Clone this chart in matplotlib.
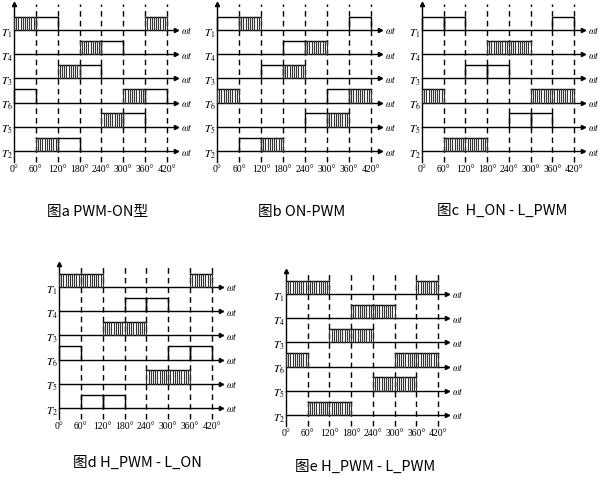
import matplotlib.pyplot as plt

plt.rcParams['font.family'] = ['Noto Sans CJK SC', 'DejaVu Sans']
plt.rcParams['mathtext.fontset'] = 'stix'

row_labels = ['$T_1$', '$T_4$', '$T_3$', '$T_6$', '$T_5$', '$T_2$']
angles = [0, 60, 120, 180, 240, 300, 360, 420]

# (start, end) in degrees for each row, top row first
a_pwm = [[(0, 60), (360, 420)], [(180, 240)], [(120, 180)], [(300, 360)], [(240, 300)], [(60, 120)]]
a_on = [[(60, 120)], [(240, 300)], [(180, 240)], [(0, 60), (360, 420)], [(300, 360)], [(120, 180)]]

b_pwm = [[(60, 120)], [(240, 300)], [(180, 240)], [(0, 60), (360, 420)], [(300, 360)], [(120, 180)]]
b_on = [[(0, 60), (360, 420)], [(180, 240)], [(120, 180)], [(300, 360)], [(240, 300)], [(60, 120)]]

c_pwm = [[], [(180, 300)], [], [(0, 60), (300, 420)], [], [(60, 180)]]
c_on = [[(0, 60), (60, 120), (360, 420)], [], [(120, 180), (180, 240)], [],
        [(240, 300), (300, 360)], []]

d_pwm = [[(0, 120), (360, 420)], [], [(120, 240)], [], [(240, 360)], []]
d_on = [[], [(180, 240), (240, 300)], [], [(0, 60), (300, 360), (360, 420)], [],
        [(60, 120), (120, 180)]]

e_pwm = [[(0, 120), (360, 420)], [(180, 300)], [(120, 240)], [(0, 60), (300, 420)],
         [(240, 360)], [(60, 180)]]
e_on = [[], [], [], [], [], []]

captions = ['图a PWM-ON型', '图b ON-PWM', '图c  H_ON - L_PWM', '图d H_PWM - L_ON',
            '图e H_PWM - L_PWM']

W, H = 614, 485
fig = plt.figure(figsize=(W / 100, H / 100), dpi=100)

# pixel layout: x of 0deg, x of 420deg, y of top row, y of bottom row, y of axis top, caption xy
layout = [
    (14, 167, 31, 152, 5, (98, 212)),
    (217, 371, 31, 152, 5, (302, 212)),
    (422, 574, 31, 152, 5, (502, 211)),
    (59, 212, 288, 409, 265, (137, 463)),
    (286, 438, 295, 416, 272, (365, 467)),
]
panels = [(a_pwm, a_on), (b_pwm, b_on), (c_pwm, c_on), (d_pwm, d_on), (e_pwm, e_on)]


def draw_panel(ax, pwm, on, ytop):
    k = dict(color='black', clip_on=False)
    hgt = 0.55
    # dashed grid
    for a in angles[1:]:
        ax.plot([a, a], [-0.45, ytop], ls=(0, (4, 3)), lw=1.0, **k)
    # vertical axis
    ax.plot([0, 0], [-0.45, ytop], lw=1.0, **k)
    ax.plot([0], [ytop], marker='^', ms=3, **k)
    for i, lab in enumerate(row_labels):
        y = 5 - i
        ax.plot([0, 442], [y, y], lw=1.0, **k)
        ax.plot([444], [y], marker='>', ms=3, **k)
        ax.text(458, y, r'$\omega t$', fontsize=7, ha='left', va='center', clip_on=False)
        ax.text(-19, y - 0.1, lab, fontsize=8, ha='center', va='center', clip_on=False)
        for s, e in on[i]:
            ax.plot([s, s, e, e], [y, y + hgt, y + hgt, y], lw=1.0, **k)
        for s, e in pwm[i]:
            ax.plot([s, e], [y + hgt, y + hgt], lw=1.0, **k)
            x = s
            while x <= e + 0.1:
                ax.plot([x, x], [y, y + hgt], lw=0.8, color='#333333', clip_on=False)
                x += 6
    for a in angles:
        ax.text(a, -0.72, f'{a}°', fontsize=7, ha='center', va='center',
                family='Liberation Serif', clip_on=False)


for (x0, x1, yt, yb, ya, cap), (pwm, on), text in zip(layout, panels, captions):
    ax = fig.add_axes([x0 / W, 1 - yb / H, (x1 - x0) / W, (yb - ya) / H])
    sp = (yb - yt) / 5
    ytop = (yb - ya) / sp
    ax.set_xlim(0, 420)
    ax.set_ylim(0, ytop)
    ax.set_axis_off()
    draw_panel(ax, pwm, on, ytop)
    fig.text(cap[0] / W, 1 - cap[1] / H, text, fontsize=10.5, ha='center', va='center')

fig.savefig('out.png', dpi=100)
